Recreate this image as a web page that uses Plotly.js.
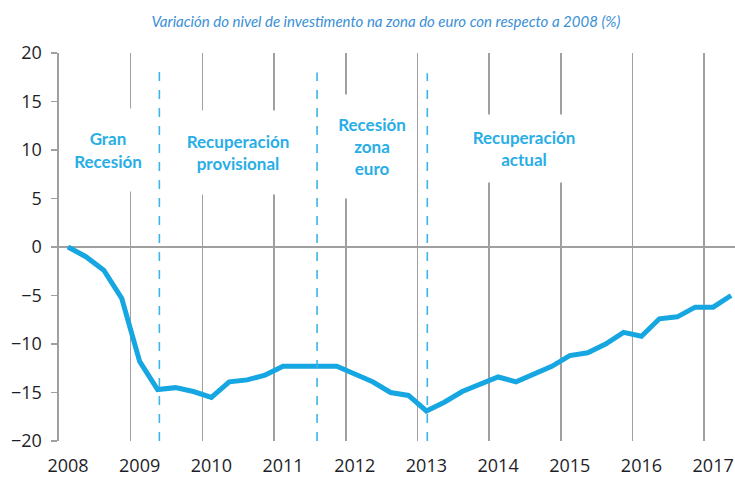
<!DOCTYPE html>
<html>
<head>
<meta charset="utf-8">
<script src="https://cdn.plot.ly/plotly-3.0.1.min.js"></script>
<style>html,body{margin:0;padding:0;background:#fff;overflow:hidden}</style>
</head>
<body>
<div id="chart" style="width:735px;height:480px"></div>
<script>
// Quarterly data, 2008T1 .. 2017T2
const quarters = ["2008T1","2008T2","2008T3","2008T4","2009T1","2009T2","2009T3","2009T4",
  "2010T1","2010T2","2010T3","2010T4","2011T1","2011T2","2011T3","2011T4",
  "2012T1","2012T2","2012T3","2012T4","2013T1","2013T2","2013T3","2013T4",
  "2014T1","2014T2","2014T3","2014T4","2015T1","2015T2","2015T3","2015T4",
  "2016T1","2016T2","2016T3","2016T4","2017T1","2017T2"];
const values = [0, -1.0, -2.4, -5.3, -11.8, -14.7, -14.5, -14.9,
  -15.5, -13.9, -13.7, -13.2, -12.3, -12.3, -12.2, -12.3,
  -13.1, -13.9, -15.0, -15.3, -16.9, -16.0, -14.9, -14.2,
  -13.4, -13.9, -13.1, -12.3, -11.2, -10.9, -10.0, -8.8,
  -9.2, -7.4, -7.2, -6.2, -6.2, -5.0];
const yearLabels = ["2008","2009","2010","2011","2012","2013","2014","2015","2016","2017"];
const yearTickPos = [0, 4, 8, 12, 16, 20, 24, 28, 32, 36];
const yearBoundaries = [3.5, 7.5, 11.5, 15.5, 19.5, 23.5, 27.5, 31.5, 35.5];
const phaseBoundaries = [5.1, 13.9, 20.05];
const phaseTops = [18.4, 18.0, 17.9];
const phaseNames = ["Gran<br>Recesión", "Recuperación<br>provisional", "Recesión<br>zona<br>euro", "Recuperación<br>actual"];
const phaseLabelX = [2.23, 9.49, 16.97, 25.45];
const phaseLabelY = [10.0, 9.7, 10.4, 10.2];
const phaseBoxW = [86, 130, 76, 130];
const phaseBoxH = [82, 83, 103, 67];

const lineBlue = '#16a6e1';
const textBlue = '#29aee6';

const trace = {
  x: quarters.map((q, i) => i),
  y: values,
  text: quarters,
  type: 'scatter',
  mode: 'lines',
  line: {color: lineBlue, width: 5},
  hovertemplate: '%{text}: %{y}<extra></extra>'
};

const shapes = phaseBoundaries.map((b, i) => ({
  type: 'line', xref: 'x', yref: 'y',
  x0: b, x1: b, y0: -20, y1: phaseTops[i],
  line: {color: '#3bb5ea', width: 1.6, dash: 'dash'},
  layer: 'above'
}));

const annotations = phaseNames.map((t, i) => ({
  text: t, xref: 'x', yref: 'y', x: phaseLabelX[i], y: phaseLabelY[i],
  showarrow: false, bgcolor: '#ffffff', width: phaseBoxW[i], height: phaseBoxH[i],
  align: 'center', valign: 'middle', borderpad: 0,
  font: {family: 'Lato, sans-serif', size: 17, color: textBlue, weight: 'bold'}
}));

const layout = {
  width: 735, height: 480,
  margin: {l: 59, r: 0, t: 53, b: 39},
  paper_bgcolor: '#ffffff', plot_bgcolor: '#ffffff',
  showlegend: false,
  title: {
    text: 'Variación do nivel de investimento na zona do euro con respecto a 2008 (%)',
    xref: 'container', yref: 'container', x: 0.525, y: 0.954,
    xanchor: 'center', yanchor: 'middle',
    font: {family: 'Liberation Sans Narrow, Lato, sans-serif', size: 15, color: '#3a8fd6', style: 'italic'}
  },
  xaxis: {
    range: [-0.5, 37.22],
    tickmode: 'array', tickvals: yearTickPos, ticktext: yearLabels,
    showgrid: false, zeroline: false, showline: false,
    ticks: '', ticklabelstandoff: 12,
    tickfont: {family: 'Open Sans, sans-serif', size: 18, color: '#1e1e28'},
    minor: {tickmode: 'array', tickvals: yearBoundaries, showgrid: true, gridcolor: '#a0a0a0', gridwidth: 1.6, ticks: ''},
    fixedrange: true
  },
  yaxis: {
    range: [-20, 20], dtick: 5, tick0: 0,
    showgrid: false,
    zeroline: true, zerolinecolor: '#a0a0a0', zerolinewidth: 1.6,
    showline: true, linecolor: '#a0a0a0', linewidth: 1.6,
    ticks: 'outside', ticklen: 6, tickcolor: '#a0a0a0', tickwidth: 1.6,
    ticklabelstandoff: 6,
    tickfont: {family: 'Open Sans, sans-serif', size: 18, color: '#1e1e28'},
    fixedrange: true
  },
  shapes: shapes,
  annotations: annotations
};

Plotly.newPlot('chart', [trace], layout, {displayModeBar: false, staticPlot: true});
</script>
</body>
</html>
